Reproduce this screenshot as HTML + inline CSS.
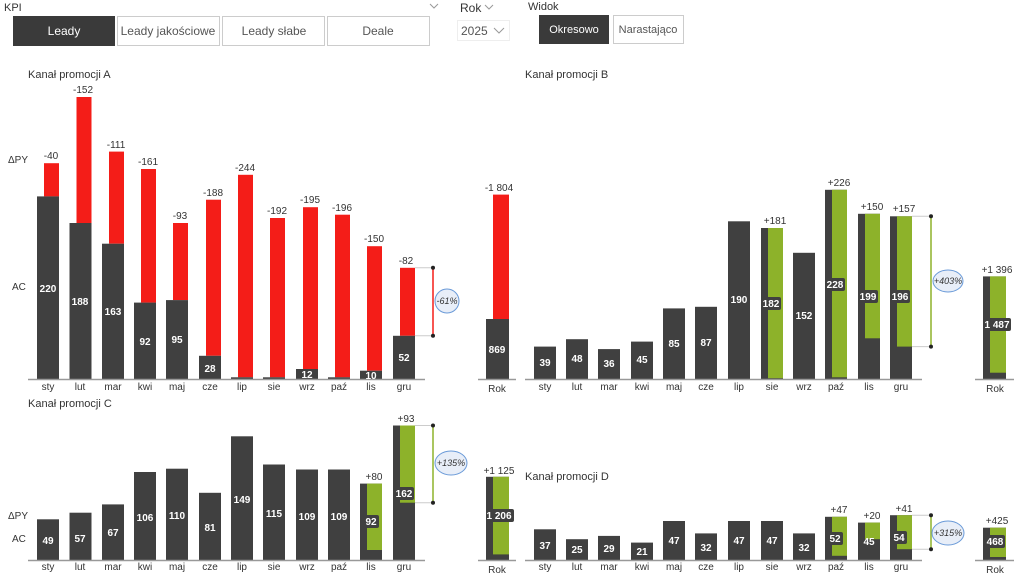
<!DOCTYPE html>
<html><head><meta charset="utf-8"><style>
body{margin:0;width:1024px;height:575px;background:#fff;overflow:hidden;font-family:"Liberation Sans",sans-serif;}
svg text{font-family:"Liberation Sans",sans-serif;}
</style></head><body>
<svg width="1024" height="575" xmlns="http://www.w3.org/2000/svg" font-size="10">
<!-- header -->
<text x="4" y="11" font-size="11" fill="#333">KPI</text>
<path d="M430 4 l4 4 l4 -4" fill="none" stroke="#999"/>
<rect x="13" y="16" width="102" height="30" fill="#3a3a3a"/>
<text x="64" y="35" text-anchor="middle" font-size="12" fill="#fff">Leady</text>
<rect x="117.5" y="16.5" width="102" height="29" fill="#fff" stroke="#ccc"/>
<text x="168" y="35" text-anchor="middle" font-size="12" fill="#555">Leady jakościowe</text>
<rect x="222.5" y="16.5" width="102" height="29" fill="#fff" stroke="#ccc"/>
<text x="274" y="35" text-anchor="middle" font-size="12" fill="#555">Leady słabe</text>
<rect x="327.5" y="16.5" width="102" height="29" fill="#fff" stroke="#ccc"/>
<text x="378" y="35" text-anchor="middle" font-size="12" fill="#555">Deale</text>
<text x="460" y="12" font-size="12" fill="#333">Rok</text>
<path d="M485 5 l4 4 l4 -4" fill="none" stroke="#999"/>
<rect x="457.5" y="20.5" width="52" height="20" fill="#fff" stroke="#eee"/>
<text x="461" y="35" font-size="12" fill="#555">2025</text>
<path d="M494 28 l5 5 l5 -5" fill="none" stroke="#999"/>
<text x="528" y="10" font-size="11" fill="#333">Widok</text>
<rect x="539" y="15" width="70" height="29" fill="#3a3a3a"/>
<text x="574" y="33" text-anchor="middle" font-size="11" fill="#fff">Okresowo</text>
<rect x="613.5" y="15.5" width="70" height="28" fill="#fff" stroke="#ccc"/>
<text x="648" y="33" text-anchor="middle" font-size="11" fill="#555">Narastająco</text>

<g font-size="11" fill="#333">
<text x="28" y="78">Kanał promocji A</text>
<text x="525" y="78">Kanał promocji B</text>
<text x="28" y="407">Kanał promocji C</text>
<text x="525" y="480">Kanał promocji D</text>
</g>
<g font-size="10" fill="#333">
<text x="8" y="163">ΔPY</text><text x="12" y="290">AC</text>
<text x="8" y="519">ΔPY</text><text x="12" y="542">AC</text>
</g>

<!-- Chart A -->
<g fill="#f41d18">
<rect x="44" y="163.2" width="15" height="33.2"/>
<rect x="76.5" y="97" width="15" height="126"/>
<rect x="109" y="151.6" width="15" height="92.1"/>
<rect x="141" y="169" width="15" height="133.6"/>
<rect x="173" y="223" width="15" height="77.1"/>
<rect x="206" y="199.7" width="15" height="156.1"/>
<rect x="238" y="174.8" width="15" height="202.5"/>
<rect x="270" y="218" width="15" height="159.3"/>
<rect x="303" y="207.2" width="15" height="161.8"/>
<rect x="335" y="214.7" width="15" height="162.6"/>
<rect x="367" y="246.2" width="15" height="124.5"/>
<rect x="400" y="267.8" width="15" height="68"/>
<rect x="493" y="194.6" width="16" height="124.4"/>
</g>
<g fill="#404040">
<rect x="37" y="196.4" width="22" height="182.6"/>
<rect x="69.5" y="223" width="22" height="156"/>
<rect x="102" y="243.7" width="22" height="135.3"/>
<rect x="134" y="302.6" width="22" height="76.4"/>
<rect x="166" y="300.1" width="22" height="78.9"/>
<rect x="199" y="355.8" width="22" height="23.2"/>
<rect x="231" y="377.3" width="22" height="1.7"/>
<rect x="263" y="377.3" width="22" height="1.7"/>
<rect x="296" y="369" width="22" height="10"/>
<rect x="328" y="377.3" width="22" height="1.7"/>
<rect x="360" y="370.7" width="22" height="8.3"/>
<rect x="393" y="335.8" width="22" height="43.2"/>
<rect x="486" y="319" width="23" height="60"/>
</g>
<g stroke="#999" stroke-width="1.5"><line x1="28" y1="379.5" x2="425" y2="379.5"/><line x1="478" y1="379.5" x2="516" y2="379.5"/></g>
<g fill="#333" text-anchor="middle">
<text x="51" y="159">-40</text><text x="83" y="93">-152</text><text x="116" y="148">-111</text><text x="148" y="165">-161</text><text x="180" y="219">-93</text><text x="213" y="196">-188</text><text x="245" y="171">-244</text><text x="277" y="214">-192</text><text x="310" y="203">-195</text><text x="342" y="211">-196</text><text x="374" y="242">-150</text><text x="406" y="264">-82</text><text x="499" y="191">-1 804</text>
<text x="48" y="390">sty</text><text x="80" y="390">lut</text><text x="113" y="390">mar</text><text x="145" y="390">kwi</text><text x="177" y="390">maj</text><text x="210" y="390">cze</text><text x="242" y="390">lip</text><text x="274" y="390">sie</text><text x="307" y="390">wrz</text><text x="339" y="390">paź</text><text x="371" y="390">lis</text><text x="404" y="390">gru</text><text x="497" y="392">Rok</text>
</g>
<g fill="#fff" font-weight="bold" text-anchor="middle">
<text x="48" y="292">220</text><text x="80" y="305">188</text><text x="113" y="315">163</text><text x="145" y="345">92</text><text x="177" y="343">95</text><text x="210" y="372">28</text><text x="307" y="378">12</text><text x="371" y="379">10</text><text x="404" y="361">52</text><text x="497" y="353">869</text>
</g>
<g stroke="#ccc"><line x1="415" y1="267.8" x2="433" y2="267.8"/><line x1="415" y1="335.8" x2="433" y2="335.8"/></g>
<line x1="433" y1="267.8" x2="433" y2="335.8" stroke="#f41d18" stroke-width="1.5"/>
<circle cx="433" cy="267.8" r="2" fill="#222"/><circle cx="433" cy="335.8" r="2" fill="#222"/>
<ellipse cx="447" cy="301" rx="12" ry="12" fill="#e8eef8" stroke="#6a9ad8"/>
<text x="447" y="304" font-size="9" font-style="italic" text-anchor="middle" fill="#333">-61%</text>

<!-- Chart B -->
<g fill="#404040">
<rect x="534" y="346.6" width="22" height="32.4"/>
<rect x="566" y="339.2" width="22" height="39.8"/>
<rect x="598" y="349.1" width="22" height="29.9"/>
<rect x="631" y="341.6" width="22" height="37.4"/>
<rect x="663" y="308.4" width="22" height="70.6"/>
<rect x="695" y="306.8" width="22" height="72.2"/>
<rect x="728" y="221.3" width="22" height="157.7"/>
<rect x="761" y="228" width="22" height="151"/>
<rect x="793" y="252.8" width="22" height="126.2"/>
<rect x="825" y="189.8" width="22" height="189.2"/>
<rect x="858" y="213.8" width="22" height="165.2"/>
<rect x="890" y="216.3" width="22" height="162.7"/>
<rect x="983" y="276.4" width="23" height="102.6"/>
</g>
<g fill="#8db22a">
<rect x="768" y="228" width="15" height="150.2"/>
<rect x="832" y="189.8" width="15" height="187.5"/>
<rect x="865" y="213.8" width="15" height="124.5"/>
<rect x="897" y="216.3" width="15" height="130.3"/>
<rect x="990" y="276.4" width="16" height="96.3"/>
</g>
<g stroke="#999" stroke-width="1.5"><line x1="525" y1="379.5" x2="922" y2="379.5"/><line x1="975" y1="379.5" x2="1014" y2="379.5"/></g>
<g fill="#333" text-anchor="middle">
<text x="775" y="224">+181</text><text x="839" y="186">+226</text><text x="872" y="210">+150</text><text x="904" y="212">+157</text><text x="997" y="273">+1 396</text>
<text x="545" y="390">sty</text><text x="577" y="390">lut</text><text x="609" y="390">mar</text><text x="642" y="390">kwi</text><text x="674" y="390">maj</text><text x="706" y="390">cze</text><text x="739" y="390">lip</text><text x="772" y="390">sie</text><text x="804" y="390">wrz</text><text x="836" y="390">paź</text><text x="869" y="390">lis</text><text x="901" y="390">gru</text><text x="995" y="392">Rok</text>
</g>
<g fill="#404040"><rect x="761" y="297" width="20" height="13" rx="2"/><rect x="825" y="278" width="20" height="13" rx="2"/><rect x="858" y="290" width="20" height="13" rx="2"/><rect x="890" y="290" width="20" height="13" rx="2"/><rect x="983" y="318" width="28" height="13" rx="2"/></g>
<g fill="#fff" font-weight="bold" text-anchor="middle">
<text x="545" y="366">39</text><text x="577" y="362">48</text><text x="609" y="367">36</text><text x="642" y="363">45</text><text x="674" y="347">85</text><text x="706" y="346">87</text><text x="739" y="303">190</text><text x="771" y="307">182</text><text x="804" y="319">152</text><text x="835" y="288">228</text><text x="868" y="300">199</text><text x="900" y="300">196</text><text x="997" y="328">1 487</text>
</g>
<g stroke="#ccc"><line x1="912" y1="216.3" x2="931" y2="216.3"/><line x1="912" y1="346.6" x2="931" y2="346.6"/></g>
<line x1="931" y1="216.3" x2="931" y2="346.6" stroke="#8db22a" stroke-width="1.5"/>
<circle cx="931" cy="216.3" r="2" fill="#222"/><circle cx="931" cy="346.6" r="2" fill="#222"/>
<ellipse cx="948" cy="281" rx="15" ry="11" fill="#e8eef8" stroke="#6a9ad8"/>
<text x="948" y="284" font-size="9" font-style="italic" text-anchor="middle" fill="#333">+403%</text>

<!-- Chart C -->
<g fill="#404040">
<rect x="37" y="519.3" width="22" height="40.7"/>
<rect x="69.5" y="512.7" width="22" height="47.3"/>
<rect x="102" y="504.4" width="22" height="55.6"/>
<rect x="134" y="472" width="22" height="88"/>
<rect x="166" y="468.7" width="22" height="91.3"/>
<rect x="199" y="492.8" width="22" height="67.2"/>
<rect x="231" y="436.3" width="22" height="123.7"/>
<rect x="263" y="464.5" width="22" height="95.5"/>
<rect x="296" y="469.5" width="22" height="90.5"/>
<rect x="328" y="469.5" width="22" height="90.5"/>
<rect x="360" y="483.6" width="22" height="76.4"/>
<rect x="393" y="425.5" width="22" height="134.5"/>
<rect x="486" y="476.8" width="23" height="83.2"/>
</g>
<g fill="#8db22a">
<rect x="367" y="483.6" width="15" height="66.4"/>
<rect x="400" y="425.5" width="15" height="77.2"/>
<rect x="493" y="476.8" width="16" height="77.6"/>
</g>
<g stroke="#999" stroke-width="1.5"><line x1="28" y1="560.5" x2="425" y2="560.5"/><line x1="478" y1="560.5" x2="516" y2="560.5"/></g>
<g fill="#333" text-anchor="middle">
<text x="374" y="480">+80</text><text x="406" y="422">+93</text><text x="499" y="474">+1 125</text>
<text x="48" y="570">sty</text><text x="80" y="570">lut</text><text x="113" y="570">mar</text><text x="145" y="570">kwi</text><text x="177" y="570">maj</text><text x="210" y="570">cze</text><text x="242" y="570">lip</text><text x="274" y="570">sie</text><text x="307" y="570">wrz</text><text x="339" y="570">paź</text><text x="371" y="570">lis</text><text x="404" y="570">gru</text><text x="497" y="573">Rok</text>
</g>
<g fill="#404040"><rect x="364" y="515" width="15" height="13" rx="2"/><rect x="394" y="487" width="20" height="13" rx="2"/><rect x="486" y="509" width="28" height="13" rx="2"/></g>
<g fill="#fff" font-weight="bold" text-anchor="middle">
<text x="48" y="544">49</text><text x="80" y="542">57</text><text x="113" y="536">67</text><text x="145" y="521">106</text><text x="177" y="519">110</text><text x="210" y="531">81</text><text x="242" y="503">149</text><text x="274" y="517">115</text><text x="307" y="520">109</text><text x="339" y="520">109</text><text x="371" y="525">92</text><text x="404" y="497">162</text><text x="499" y="519">1 206</text>
</g>
<g stroke="#ccc"><line x1="415" y1="425.5" x2="433" y2="425.5"/><line x1="415" y1="502.7" x2="433" y2="502.7"/></g>
<line x1="433" y1="425.5" x2="433" y2="502.7" stroke="#8db22a" stroke-width="1.5"/>
<circle cx="433" cy="425.5" r="2" fill="#222"/><circle cx="433" cy="502.7" r="2" fill="#222"/>
<ellipse cx="451" cy="463" rx="16" ry="12" fill="#e8eef8" stroke="#6a9ad8"/>
<text x="451" y="466" font-size="9" font-style="italic" text-anchor="middle" fill="#333">+135%</text>

<!-- Chart D -->
<g fill="#404040">
<rect x="534" y="529.3" width="22" height="30.7"/>
<rect x="566" y="539.2" width="22" height="20.8"/>
<rect x="598" y="535.9" width="22" height="24.1"/>
<rect x="631" y="542.6" width="22" height="17.4"/>
<rect x="663" y="521" width="22" height="39"/>
<rect x="695" y="533.4" width="22" height="26.6"/>
<rect x="728" y="521" width="22" height="39"/>
<rect x="761" y="521" width="22" height="39"/>
<rect x="793" y="533.4" width="22" height="26.6"/>
<rect x="825" y="516.8" width="22" height="43.2"/>
<rect x="858" y="522.6" width="22" height="37.4"/>
<rect x="890" y="515.2" width="22" height="44.8"/>
<rect x="983" y="527.7" width="23" height="32.3"/>
</g>
<g fill="#8db22a">
<rect x="832" y="516.8" width="15" height="39"/>
<rect x="865" y="522.6" width="15" height="16.6"/>
<rect x="897" y="515.2" width="15" height="34"/>
<rect x="990" y="527.7" width="16" height="29.3"/>
</g>
<g stroke="#999" stroke-width="1.5"><line x1="525" y1="560.5" x2="922" y2="560.5"/><line x1="975" y1="560.5" x2="1014" y2="560.5"/></g>
<g fill="#333" text-anchor="middle">
<text x="839" y="513">+47</text><text x="872" y="519">+20</text><text x="904" y="512">+41</text><text x="997" y="524">+425</text>
<text x="545" y="570">sty</text><text x="577" y="570">lut</text><text x="609" y="570">mar</text><text x="642" y="570">kwi</text><text x="674" y="570">maj</text><text x="706" y="570">cze</text><text x="739" y="570">lip</text><text x="772" y="570">sie</text><text x="804" y="570">wrz</text><text x="836" y="570">paź</text><text x="869" y="570">lis</text><text x="901" y="570">gru</text><text x="995" y="573">Rok</text>
</g>
<g fill="#404040"><rect x="827" y="532" width="16" height="13" rx="2"/><rect x="891" y="531" width="16" height="13" rx="2"/><rect x="985" y="535" width="20" height="13" rx="2"/></g>
<g fill="#fff" font-weight="bold" text-anchor="middle">
<text x="545" y="549">37</text><text x="577" y="553">25</text><text x="609" y="552">29</text><text x="642" y="555">21</text><text x="674" y="544">47</text><text x="706" y="551">32</text><text x="739" y="544">47</text><text x="772" y="544">47</text><text x="804" y="551">32</text><text x="835" y="542">52</text><text x="869" y="545">45</text><text x="899" y="541">54</text><text x="995" y="545">468</text>
</g>
<g stroke="#ccc"><line x1="912" y1="515.2" x2="931" y2="515.2"/><line x1="912" y1="549.2" x2="931" y2="549.2"/></g>
<line x1="931" y1="515.2" x2="931" y2="549.2" stroke="#8db22a" stroke-width="1.5"/>
<circle cx="931" cy="515.2" r="2" fill="#222"/><circle cx="931" cy="549.2" r="2" fill="#222"/>
<ellipse cx="948" cy="533" rx="16" ry="12" fill="#e8eef8" stroke="#6a9ad8"/>
<text x="948" y="536" font-size="9" font-style="italic" text-anchor="middle" fill="#333">+315%</text>
</svg>
</body></html>
